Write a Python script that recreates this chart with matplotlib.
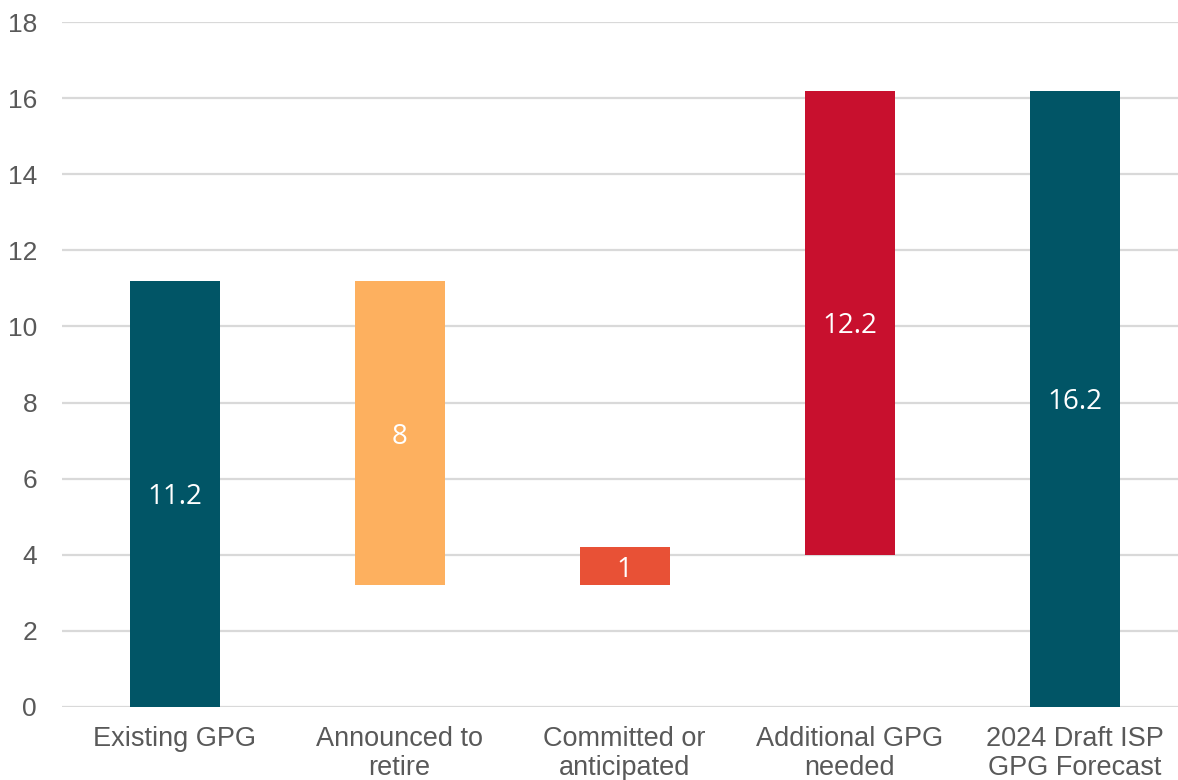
import matplotlib.pyplot as plt

# Chart data (GW)
categories = ['Existing GPG', 'Announced to\nretire', 'Committed or\nanticipated',
              'Additional GPG\nneeded', '2024 Draft ISP\nGPG Forecast']
bar_bottoms = [0, 3.2, 3.2, 4.0, 0]
bar_tops = [11.2, 11.2, 4.2, 16.2, 16.2]
bar_labels = ['11.2', '8', '1', '12.2', '16.2']
y_ticks = [0, 2, 4, 6, 8, 10, 12, 14, 16, 18]

colors = ['#015566', '#FDB05F', '#E85136', '#C8102E', '#015566']

plt.rcParams['font.family'] = ['Liberation Sans', 'DejaVu Sans']

fig = plt.figure(figsize=(11.78, 7.8), dpi=100)
ax = fig.add_axes([62 / 1178, 73 / 780, 1 - 62 / 1178, (707 - 22) / 780])

x = list(range(len(categories)))
heights = [t - b for t, b in zip(bar_tops, bar_bottoms)]
bars = ax.bar(x, heights, bottom=bar_bottoms, width=0.4, color=colors, zorder=3)

# Value labels in the middle of each bar
for xi, b, t, lab in zip(x, bar_bottoms, bar_tops, bar_labels):
    ax.text(xi, (b + t) / 2, lab, ha='center', va='center_baseline', color='white',
            fontsize=20, family=['Open Sans', 'DejaVu Sans'], zorder=4)

ax.set_xlim(-0.5, 4.46)
ax.set_ylim(0, 18)
ax.set_yticks(y_ticks)
ax.set_xticks(x)
ax.set_xticklabels(categories, fontsize=19.5, color='#595959', linespacing=1.12)
ax.tick_params(axis='y', labelsize=19, labelcolor='#595959', length=0, pad=18)
ax.tick_params(axis='x', length=0, pad=14)

ax.grid(axis='y', color='#D9D9D9', linewidth=1.6, zorder=0)
for s in ax.spines.values():
    s.set_visible(False)

fig.savefig('out.png', dpi=100)
